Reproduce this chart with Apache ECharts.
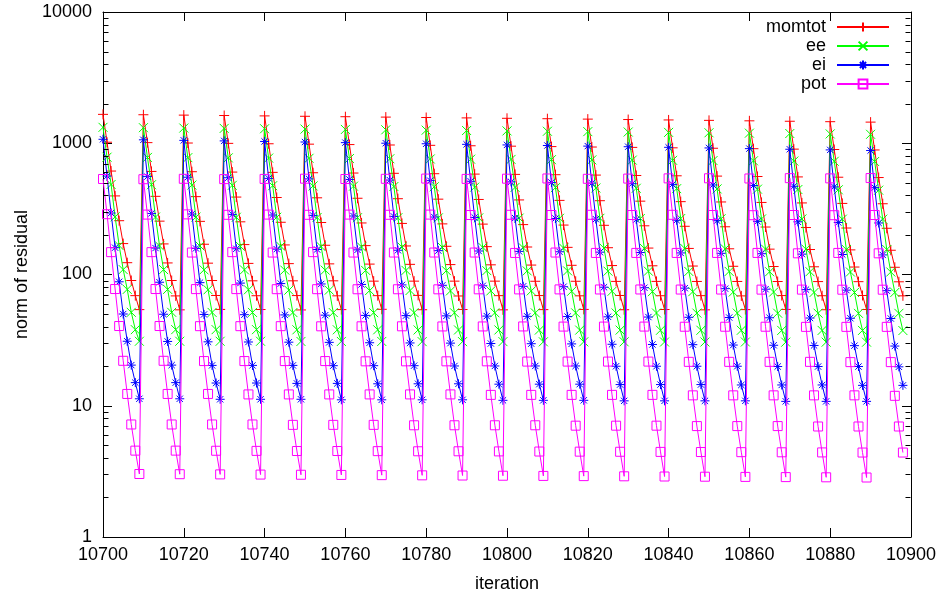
<!DOCTYPE html>
<html><head><meta charset="utf-8">
<script src="https://cdn.jsdelivr.net/npm/echarts@6/dist/echarts.min.js"></script>
<style>html,body{margin:0;padding:0;background:#fff}#c{width:943px;height:598px}</style>
</head><body><div id="c"></div><script>
const startIteration = 10700;
const seriesNames = ['momtot', 'ee', 'ei', 'pot'];
const xTickLabels = [10700, 10720, 10740, 10760, 10780, 10800, 10820, 10840, 10860, 10880, 10900];
const yTickLabels = [1, 10, 100, 1000, 10000];
const minorTickValues = [2,3,4,5,6,7,8,9,20,30,40,50,60,70,80,90,200,300,400,500,600,700,800,900,2000,3000,4000,5000,6000,7000,8000,9000];

const momtot = [
1660,1018,614,397,257,172,123,90,69,54,
1649,1011,610,394,255,171,122.5,90,68.7,53.8,
1638,1004,607,392,254,170,122,90,69.2,54.2,
1627,998,603,389,252,169,121.5,89.5,68.9,54.1,
1616,991,600,386,250,168,121,89.5,69.1,53.7,
1605,984,596,384,249,167,120.5,89.5,68.8,54,
1593,977,593,381,247,166,120,89,69,54.3,
1582,970,590,378,245,165,119.5,89,69.3,53.9,
1571,964,586,375,243,164,119,89,68.6,54.1,
1560,957,582,373,242,163,118.5,89,69,53.8,
1549,950,579,370,240,162,118,88.8,69.1,54,
1538,943,576,367,238,161,117.5,88.8,68.8,54.2,
1527,936,572,365,237,160,117,88.6,69.2,53.9,
1516,930,568,362,235,159,116.5,88.6,68.9,54.1,
1505,923,565,359,233,158,116,88.5,69,53.8,
1494,916,562,357,231,157,115.5,88.5,68.7,54,
1482,909,558,354,230,156,115,88.4,69.1,54.2,
1471,902,554,351,228,155,114.5,88.3,68.9,53.9,
1460,896,551,348,226,154,114,88.2,69.2,54.1,
1449,889,548,346,225,153,113.5,88,68.8
];
const ee = [
1322,783,485,275,166,109,77,51.5,38,31,
1314,780,483,274,165,109,77,51.5,38,31,
1306,777,480,274,165,108.5,76.5,51.4,38,31,
1298,774,478,273,164,108.5,76.5,51.4,38,31,
1290,771,475,273,164,108,76,51.3,37.9,30.9,
1282,768,473,272,163,108,76,51.3,37.9,30.9,
1274,765,471,271,162,107.5,75.5,51.2,37.9,30.9,
1266,762,468,271,162,107.5,75.5,51.2,37.8,30.8,
1258,759,466,270,161,107,75,51.1,37.8,30.8,
1250,756,463,270,161,107,75,51.1,37.8,30.8,
1242,753,461,269,160,106.5,75,51,37.7,30.7,
1234,750,459,268,159,106.5,74.5,51,37.7,30.7,
1226,747,456,268,159,106,74.5,50.9,37.7,30.7,
1218,744,454,267,158,106,74,50.9,37.6,30.6,
1210,741,451,267,158,105.5,74,50.8,37.6,30.6,
1202,738,449,266,157,105.5,73.5,50.8,37.6,30.6,
1194,735,447,265,156,105,73.5,50.7,37.5,30.5,
1186,732,444,265,156,105,73,50.7,37.5,30.5,
1178,729,442,264,155,104.5,73,50.6,37.5,30.5,
1170,726,439,264,155,104.5,73,50.6,37.4
];
const ei = [
1072,562,294,160,88,50,31,20.4,15,11.3,
1062,557,292,159,87.3,49.8,30.9,20.4,15,11.3,
1052,551,289,158,86.7,49.6,30.7,20.3,14.9,11.2,
1042,546,287,157,86,49.4,30.6,20.3,14.9,11.2,
1032,540,284,156,85.3,49.2,30.5,20.3,14.8,11.2,
1022,535,282,155,84.7,49,30.4,20.2,14.8,11.1,
1011,530,279,154,84,48.8,30.2,20.2,14.7,11.1,
1001,524,277,153,83.3,48.6,30.1,20.2,14.7,11.1,
991,519,274,152,82.7,48.4,30,20.1,14.7,11.1,
981,513,272,151,82,48.2,29.8,20.1,14.6,11.0,
971,508,269,150,81.3,48,29.7,20.1,14.6,11.0,
961,503,267,149,80.7,47.8,29.6,20.1,14.6,11.0,
951,497,264,148,80,47.6,29.4,20,14.5,10.9,
941,492,262,147,79.3,47.4,29.3,20,14.5,10.9,
931,486,259,146,78.7,47.2,29.2,20,14.5,10.9,
921,481,257,145,78,47,29,20,14.4,10.9,
910,476,254,144,77.3,46.8,28.9,19.9,14.4,10.8,
900,470,252,143,76.7,46.6,28.8,19.9,14.4,10.8,
890,465,249,142,76,46.4,28.7,19.9,14.3,10.8,
880,459,247,141,75.3,46.2,28.5,19.8,14.3
];
const pot = [
534,288,148,77.5,40.5,22,12.3,7.2,4.55,3.02,
532,286,148,77.5,40.5,22,12.3,7.2,4.55,3.01,
536,287,147,77.4,40.4,21.9,12.3,7.2,4.54,3.0,
533,285,148,77.4,40.4,21.9,12.2,7.2,4.53,2.99,
535,286,147,77.3,40.4,21.9,12.2,7.15,4.52,2.98,
537,285,148,77.3,40.3,21.9,12.2,7.15,4.52,2.97,
534,286,147,77.2,40.3,21.8,12.2,7.15,4.51,2.96,
536,285,147,77.2,40.3,21.8,12.2,7.1,4.5,2.95,
538,286,147,77.1,40.2,21.8,12.2,7.1,4.5,2.94,
535,284,147,77.1,40.2,21.8,12.1,7.1,4.49,2.93,
537,285,146,77,40.2,21.7,12.1,7.1,4.48,2.92,
539,284,147,77,40.1,21.7,12.1,7.05,4.47,2.91,
536,285,146,76.9,40.1,21.7,12.1,7.05,4.46,2.9,
538,284,146,76.9,40.1,21.7,12.1,7.05,4.45,2.89,
540,285,146,76.8,40,21.6,12,7,4.44,2.88,
541,284,146,76.8,40,21.6,12,7,4.43,2.87,
539,283,146,76.7,40,21.6,12,7,4.42,2.86,
542,284,145,76.7,39.9,21.6,12,6.95,4.41,2.85,
540,283,146,76.6,39.9,21.5,12,6.95,4.4,2.84,
543,284,145,76.6,39.9,21.5,11.9,6.95,4.4
];

const seriesValues = [momtot, ee, ei, pot];
const seriesColors = ['#ff0000', '#00ff00', '#0000ff', '#ff00ff'];
const seriesSymbols = [
  'path://M5,0L5,10M0,5L10,5',
  'path://M0,0L10,10M10,0L0,10',
  'path://M5,0L5,10M0,5L10,5M1.5,1.5L8.5,8.5M8.5,1.5L1.5,8.5',
  'path://M0,0L10,0L10,10L0,10Z'
];
const seriesSymbolSizes = [10, 9, 9, 9];

const FONT = 'Liberation Sans, Arial, Helvetica, sans-serif';
const plainNumber = v => String(v);
const chart = echarts.init(document.getElementById('c'), null, {renderer: 'canvas'});

const lineSeries = seriesNames.map((name, s) => ({
  name: name,
  type: 'line',
  data: seriesValues[s].map((v, i) => [startIteration + i, v]),
  xAxisIndex: 0,
  yAxisIndex: 0,
  color: seriesColors[s],
  symbol: seriesSymbols[s],
  symbolSize: seriesSymbolSizes[s],
  showAllSymbol: true,
  clip: false,
  lineStyle: {color: seriesColors[s], width: 1},
  itemStyle: {color: 'rgba(0,0,0,0)', borderColor: seriesColors[s], borderWidth: 1},
  emphasis: {disabled: true},
  z: 2 + s
}));

const tickSeries = {
  type: 'custom',
  name: 'minorTicks',
  silent: true,
  xAxisIndex: 0,
  yAxisIndex: 0,
  clip: false,
  z: 20,
  data: minorTickValues.map(v => [startIteration, v]),
  encode: {x: 0, y: 1},
  renderItem: function (params, api) {
    const p = api.coord([api.value(0), api.value(1)]);
    const cs = params.coordSys;
    const y = Math.round(p[1]) + 0.5;
    const xl = Math.round(cs.x) + 0.5;
    const xr = Math.round(cs.x + cs.width) - 0.5;
    return {type: 'group', children: [
      {type: 'line', shape: {x1: xl, y1: y, x2: xl + 5, y2: y}, style: {stroke: '#000', lineWidth: 1}},
      {type: 'line', shape: {x1: xr, y1: y, x2: xr - 5, y2: y}, style: {stroke: '#000', lineWidth: 1}}
    ]};
  }
};

const axisLineStyle = {show: true, onZero: false, lineStyle: {color: '#000', width: 1}};
const tickStyle = {show: true, inside: true, length: 9, lineStyle: {color: '#000', width: 1}};

chart.setOption({
  animation: false,
  backgroundColor: '#ffffff',
  grid: {left: 103, right: 32, top: 12, bottom: 58, containLabel: false},
  legend: {
    data: seriesNames,
    orient: 'vertical',
    right: 53,
    top: 18,
    align: 'right',
    itemWidth: 52,
    itemHeight: 11,
    itemGap: 1,
    padding: 0,
    selectedMode: false,
    textStyle: {fontSize: 18, color: '#000', fontFamily: FONT, padding: [0, 6, 0, 0]}
  },
  xAxis: [
    {
      type: 'value', position: 'bottom',
      min: xTickLabels[0], max: xTickLabels[xTickLabels.length - 1], interval: 20,
      axisLine: axisLineStyle, axisTick: tickStyle, splitLine: {show: false},
      axisLabel: {color: '#000', fontSize: 18, fontFamily: FONT, margin: 9, formatter: plainNumber},
      name: 'iteration', nameLocation: 'middle', nameGap: 38,
      nameTextStyle: {color: '#000', fontSize: 18, fontFamily: FONT}
    },
    {
      type: 'value', position: 'top',
      min: xTickLabels[0], max: xTickLabels[xTickLabels.length - 1], interval: 20,
      axisLine: axisLineStyle, axisTick: tickStyle, splitLine: {show: false},
      axisLabel: {show: false}
    }
  ],
  yAxis: [
    {
      type: 'log', logBase: 10, position: 'left',
      min: yTickLabels[0], max: yTickLabels[yTickLabels.length - 1],
      axisLine: axisLineStyle, axisTick: tickStyle, splitLine: {show: false}, minorTick: {show: false},
      axisLabel: {color: '#000', fontSize: 18, fontFamily: FONT, margin: 11, formatter: plainNumber},
      name: 'norm of residual', nameLocation: 'middle', nameGap: 72,
      nameTextStyle: {color: '#000', fontSize: 18, fontFamily: FONT}
    },
    {
      type: 'log', logBase: 10, position: 'right',
      min: yTickLabels[0], max: yTickLabels[yTickLabels.length - 1],
      axisLine: axisLineStyle, axisTick: tickStyle, splitLine: {show: false}, minorTick: {show: false},
      axisLabel: {show: false}
    }
  ],
  series: lineSeries.concat([tickSeries])
});
</script></body></html>
